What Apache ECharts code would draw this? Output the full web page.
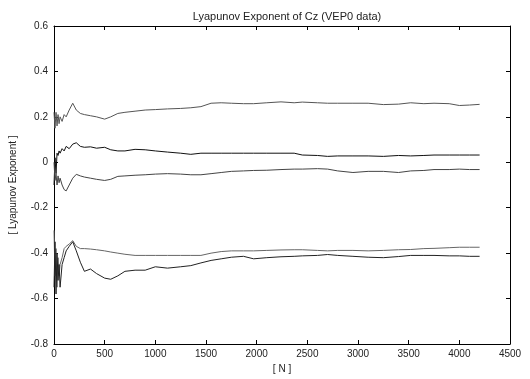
<!DOCTYPE html>
<html>
<head>
<meta charset="utf-8">
<script src="https://cdn.jsdelivr.net/npm/echarts@6/dist/echarts.min.js"></script>
<style>html,body{margin:0;padding:0;background:#fff;}#c{width:530px;height:379px;}</style>
</head>
<body>
<div id="c"></div>
<script>
const N = [0,10,20,30,40,50,60,80,100,120,150,185,220,260,300,360,420,500,560,630,700,800,900,1000,1120,1250,1350,1450,1550,1650,1750,1870,1970,2100,2240,2370,2450,2600,2700,2800,2950,3100,3250,3400,3520,3650,3750,3900,4000,4100,4200];
const s1 = [0.22,0.15,0.22,0.16,0.21,0.17,0.2,0.18,0.21,0.2,0.23,0.26,0.23,0.215,0.21,0.205,0.2,0.19,0.2,0.215,0.22,0.225,0.23,0.232,0.235,0.237,0.24,0.245,0.26,0.262,0.26,0.258,0.258,0.262,0.266,0.262,0.265,0.262,0.26,0.26,0.26,0.26,0.254,0.256,0.262,0.258,0.26,0.258,0.25,0.252,0.255];
const s2 = [-0.1,0.02,-0.05,0.04,0.03,0.05,0.04,0.06,0.05,0.07,0.06,0.08,0.086,0.07,0.066,0.068,0.062,0.066,0.055,0.05,0.05,0.057,0.055,0.05,0.045,0.04,0.035,0.04,0.04,0.04,0.04,0.04,0.04,0.04,0.04,0.04,0.032,0.03,0.026,0.028,0.028,0.028,0.026,0.03,0.028,0.03,0.032,0.032,0.032,0.032,0.032];
const s3 = [0.0,-0.08,-0.05,-0.1,-0.06,-0.09,-0.07,-0.1,-0.12,-0.126,-0.1,-0.07,-0.053,-0.06,-0.065,-0.07,-0.075,-0.08,-0.075,-0.062,-0.06,-0.057,-0.055,-0.052,-0.05,-0.052,-0.055,-0.055,-0.05,-0.045,-0.04,-0.038,-0.036,-0.035,-0.032,-0.03,-0.03,-0.028,-0.03,-0.038,-0.045,-0.04,-0.04,-0.045,-0.038,-0.036,-0.032,-0.032,-0.03,-0.032,-0.032];
const s4 = [-0.3,-0.5,-0.38,-0.55,-0.42,-0.5,-0.45,-0.42,-0.38,-0.37,-0.36,-0.345,-0.37,-0.38,-0.38,-0.382,-0.385,-0.39,-0.395,-0.4,-0.405,-0.41,-0.41,-0.41,-0.41,-0.41,-0.41,-0.41,-0.4,-0.393,-0.39,-0.39,-0.39,-0.388,-0.386,-0.385,-0.385,-0.388,-0.39,-0.388,-0.388,-0.39,-0.388,-0.385,-0.384,-0.38,-0.379,-0.376,-0.374,-0.374,-0.374];
const s5 = [-0.55,-0.35,-0.58,-0.4,-0.52,-0.45,-0.55,-0.45,-0.42,-0.39,-0.37,-0.35,-0.39,-0.44,-0.48,-0.47,-0.49,-0.51,-0.515,-0.5,-0.48,-0.475,-0.475,-0.46,-0.466,-0.46,-0.455,-0.443,-0.432,-0.425,-0.418,-0.414,-0.425,-0.42,-0.416,-0.414,-0.412,-0.41,-0.406,-0.41,-0.414,-0.418,-0.42,-0.415,-0.41,-0.41,-0.41,-0.412,-0.412,-0.414,-0.414];
const xTicks = [0,500,1000,1500,2000,2500,3000,3500,4000,4500];
const yTicks = [-0.8,-0.6,-0.4,-0.2,0,0.2,0.4,0.6];

const series = [s1,s2,s3,s4,s5];
const colors = ['#555','#111','#444','#666','#222'];
const font = 'Liberation Sans, Arial, sans-serif';
const chart = echarts.init(document.getElementById('c'));
const axisLine = {show:true, onZero:false, lineStyle:{color:'#000', width:1}};
const tick = {show:true, inside:true, length:4, lineStyle:{color:'#000'}};
chart.setOption({
  animation:false,
  backgroundColor:'#fff',
  title:{text:'Lyapunov Exponent of Cz (VEP0 data)', left:282, textAlign:'center', top:6,
    textStyle:{fontFamily:font, fontSize:11, fontWeight:'normal', color:'#222'}},
  grid:{left:53, right:20, top:26, bottom:34},
  xAxis:[{type:'value', min:0, max:4500, interval:500, position:'bottom',
    name:'[ N ]', nameLocation:'middle', nameGap:20,
    nameTextStyle:{fontFamily:font, fontSize:10, color:'#222'},
    axisLine:axisLine, axisTick:tick, splitLine:{show:false},
    axisLabel:{fontFamily:font, fontSize:10, color:'#222', margin:5,
      formatter:v=>xTicks.includes(v)?String(v):''}},
    {type:'value', min:0, max:4500, interval:500, position:'top',
    axisLine:axisLine, axisTick:tick, splitLine:{show:false}, axisLabel:{show:false}}],
  yAxis:[{type:'value', min:-0.8, max:0.6, interval:0.2, position:'left',
    name:'[ Lyapunov Exponent ]', nameLocation:'middle', nameGap:36,
    nameTextStyle:{fontFamily:font, fontSize:10, color:'#222'},
    axisLine:axisLine, axisTick:tick, splitLine:{show:false},
    axisLabel:{fontFamily:font, fontSize:10, color:'#222', margin:6,
      formatter:v=>{const r=Math.round(v*10)/10; return yTicks.includes(r)?String(r):'';}}},
    {type:'value', min:-0.8, max:0.6, interval:0.2, position:'right',
    axisLine:axisLine, axisTick:tick, splitLine:{show:false}, axisLabel:{show:false}}],
  series: series.map((s,i)=>({
    type:'line', xAxisIndex:0, yAxisIndex:0, symbol:'none', silent:true,
    data: N.map((n,j)=>[n,s[j]]),
    lineStyle:{color:colors[i], width:1}
  }))
});
</script>
</body>
</html>
